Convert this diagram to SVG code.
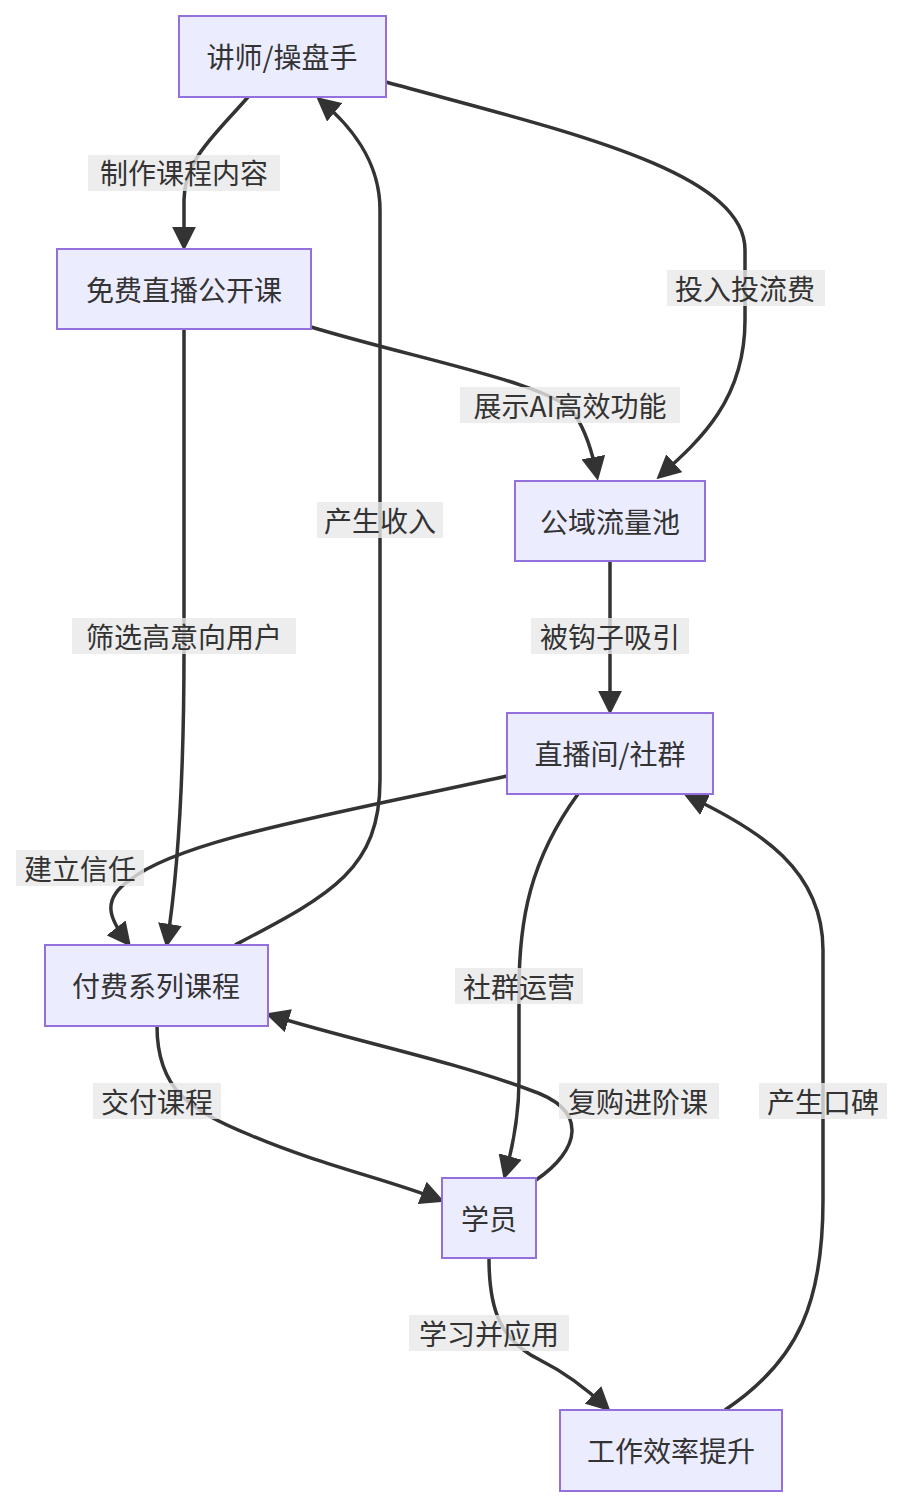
<svg xmlns="http://www.w3.org/2000/svg" width="904" height="1510" viewBox="0 0 904 1510">
<style>
.n rect{fill:#ECECFF;stroke:#9370DB;stroke-width:2}
text{font-family:"Noto Sans CJK SC","Liberation Sans",sans-serif;font-size:28px;fill:#333;text-anchor:middle;dominant-baseline:central}
.e path{fill:none;stroke:#333;stroke-width:3.5}
.l rect{fill:#e8e8e8;opacity:0.8}
</style>
<defs><marker id="a" viewBox="0 0 10 10" refX="9" refY="5" markerWidth="7" markerHeight="7" markerUnits="userSpaceOnUse" orient="auto"><path d="M0,0L10,5L0,10z" fill="#333" transform="scale(1)"/></marker>
<marker id="b" viewBox="0 0 10 10" refX="8" refY="5" markerWidth="24" markerHeight="24" markerUnits="userSpaceOnUse" orient="auto"><path d="M0,0L10,5L0,10z" fill="#333"/></marker></defs>
<g class="e">
<path marker-end="url(#b)" d="M248,97C215,135 184,160 184,200L184,246"/>
<path marker-end="url(#b)" d="M386,82C560,130 745,170 745,250L745,320C745,400 700,440 660,476"/>
<path marker-end="url(#b)" d="M311,327C420,360 560,385 575,415C585,430 592,450 597,476"/>
<path marker-end="url(#b)" d="M184,329L184,650C184,760 180,860 167,943"/>
<path marker-end="url(#b)" d="M235,945C330,895 380,870 380,780L380,210C380,160 350,125 320,100"/>
<path marker-end="url(#b)" d="M610,561L610,710"/>
<path marker-end="url(#b)" d="M507,776C330,815 180,840 130,880C100,900 110,920 128,943"/>
<path marker-end="url(#b)" d="M578,794C530,860 519,920 519,990L519,1080C519,1120 512,1150 505,1175"/>
<path marker-end="url(#b)" d="M157,1026C157,1090 190,1110 250,1135C320,1165 390,1180 440,1200"/>
<path marker-end="url(#b)" d="M536,1180C580,1150 590,1110 530,1090C450,1060 350,1040 270,1015"/>
<path marker-end="url(#b)" d="M489,1258C489,1310 500,1340 540,1360C570,1375 590,1392 607,1408"/>
<path marker-end="url(#b)" d="M725,1410C800,1360 823,1300 823,1200L823,950C823,870 760,830 688,796"/>
</g>
<g class="l">
<rect x="88" y="155" width="192" height="36"/><text x="184" y="172">制作课程内容</text>
<rect x="667" y="270" width="158" height="36"/><text x="745" y="288">投入投流费</text>
<rect x="460" y="387" width="220" height="36"/><text x="570" y="405">展示AI高效功能</text>
<rect x="72" y="618" width="224" height="36"/><text x="184" y="636">筛选高意向用户</text>
<rect x="317" y="502" width="126" height="36"/><text x="380" y="520">产生收入</text>
<rect x="531" y="618" width="158" height="36"/><text x="610" y="636">被钩子吸引</text>
<rect x="16" y="850" width="128" height="36"/><text x="80" y="868">建立信任</text>
<rect x="455" y="968" width="128" height="36"/><text x="519" y="986">社群运营</text>
<rect x="93" y="1083" width="128" height="36"/><text x="157" y="1101">交付课程</text>
<rect x="559" y="1083" width="160" height="36"/><text x="638" y="1101">复购进阶课</text>
<rect x="759" y="1083" width="128" height="36"/><text x="823" y="1101">产生口碑</text>
<rect x="409" y="1315" width="160" height="36"/><text x="489" y="1333">学习并应用</text>
</g>
<g id="n1" class="n"><rect x="179" y="16" width="207" height="81"/><text x="282" y="56">讲师/操盘手</text></g>
<g id="n2" class="n"><rect x="57" y="249" width="254" height="80"/><text x="184" y="289">免费直播公开课</text></g>
<g id="n3" class="n"><rect x="515" y="481" width="190" height="80"/><text x="610" y="521">公域流量池</text></g>
<g id="n4" class="n"><rect x="507" y="713" width="206" height="81"/><text x="610" y="753">直播间/社群</text></g>
<g id="n5" class="n"><rect x="45" y="945" width="223" height="81"/><text x="156" y="985">付费系列课程</text></g>
<g id="n6" class="n"><rect x="442" y="1178" width="94" height="80"/><text x="489" y="1218">学员</text></g>
<g id="n7" class="n"><rect x="560" y="1410" width="222" height="81"/><text x="671" y="1450">工作效率提升</text></g>
</svg>
